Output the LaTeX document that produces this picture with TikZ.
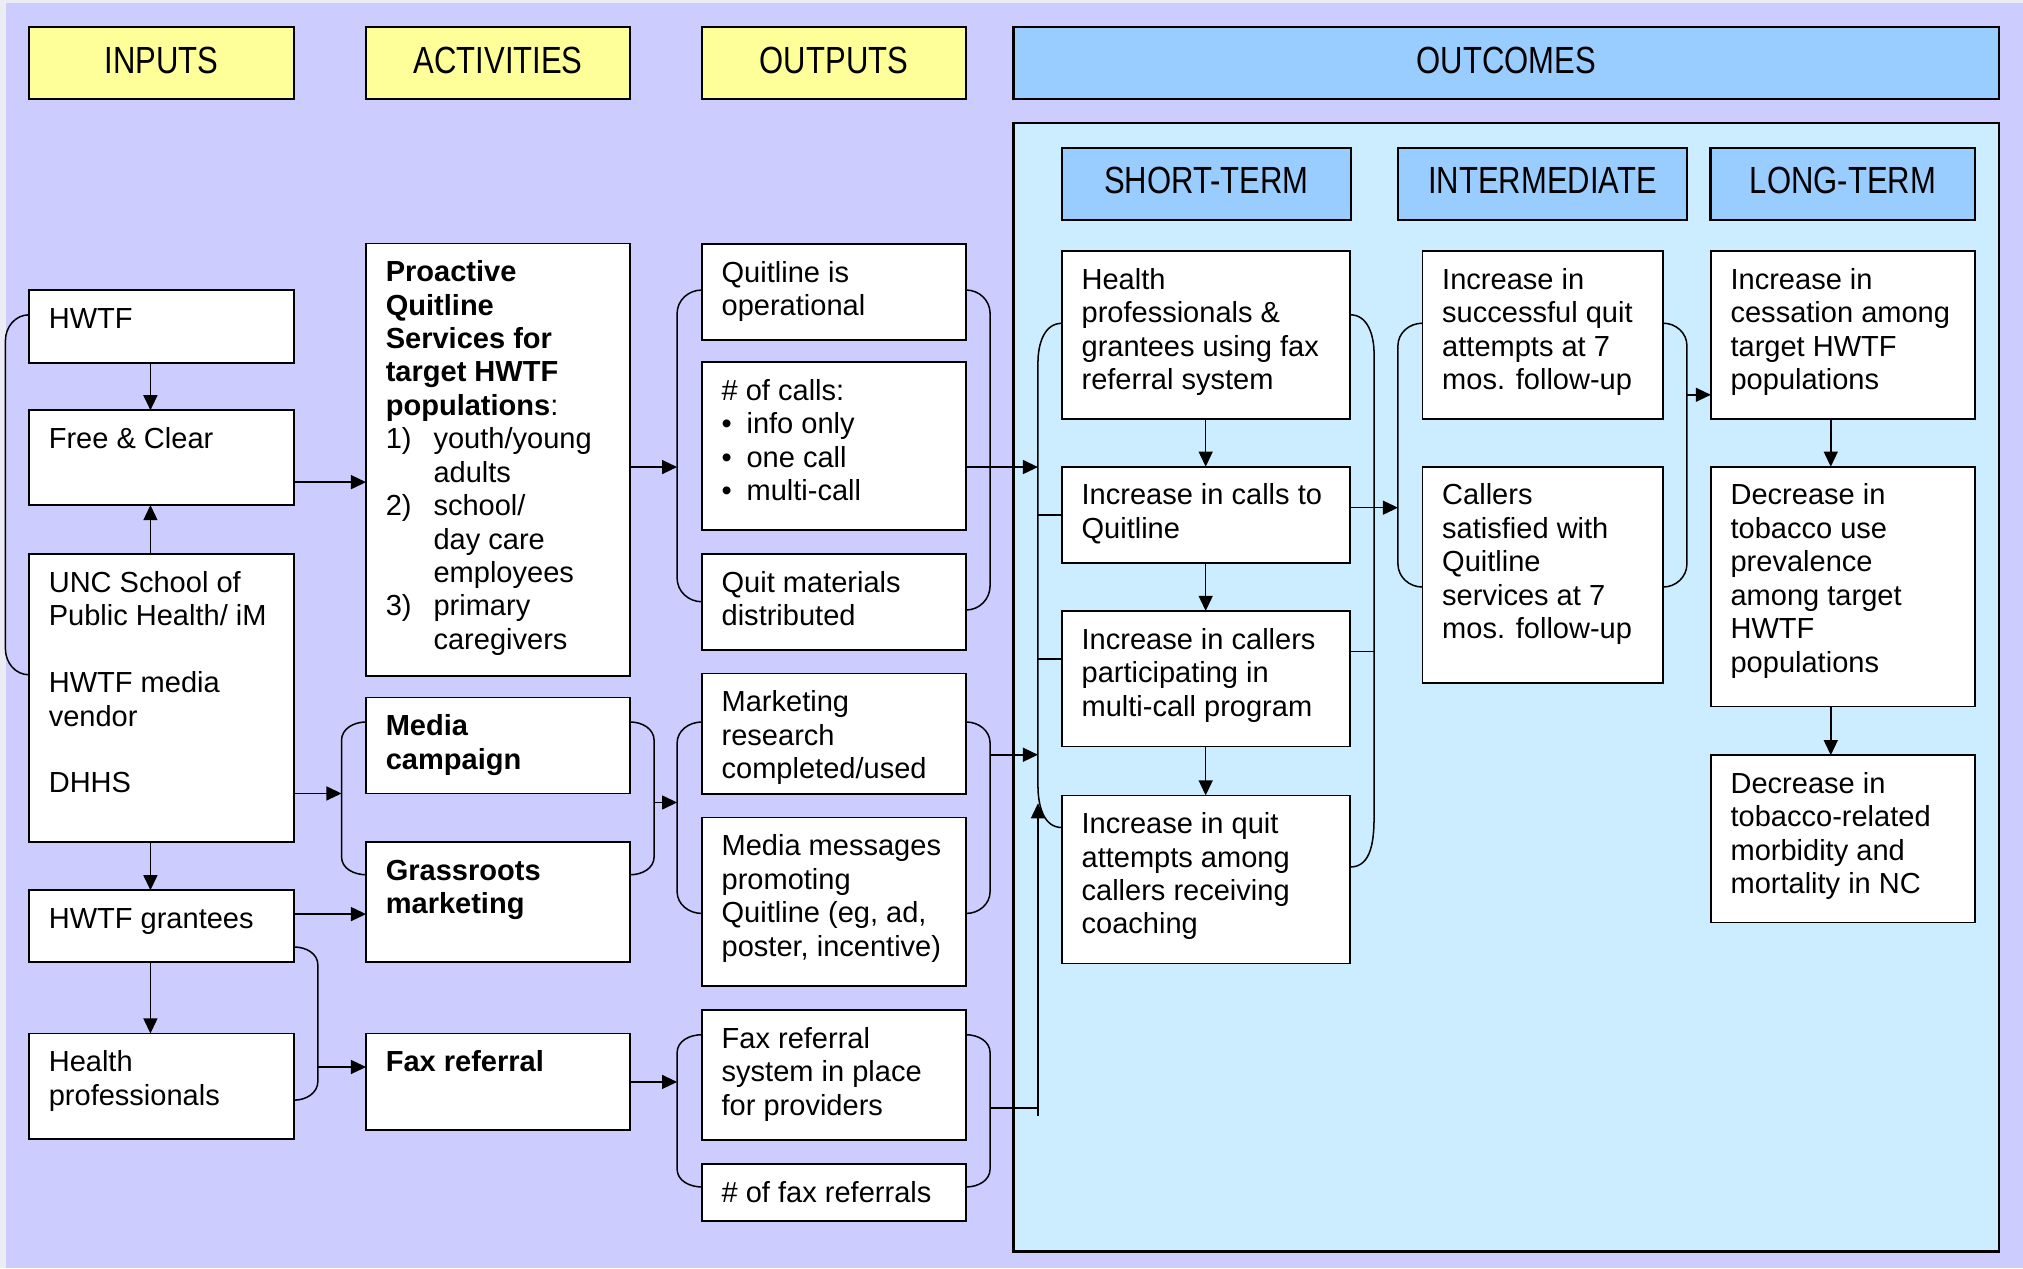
\documentclass[tikz,border=0pt]{standalone}
\usepackage{fontspec}
\setmainfont{Liberation Sans}
\newfontfamily\hdfont[FakeStretch=0.82]{Liberation Sans}
\usetikzlibrary{arrows.meta,calc}
\newcommand\bodyfont{\fontsize{13.5}{15.54}\selectfont}
\newcommand\hdrfont{\hdfont\fontsize{17.6}{20}\selectfont}
\newcommand\bigbul{\makebox[11.6pt][l]{\textbullet}}
\definecolor{lav}{HTML}{CCCCFF}
\definecolor{outerc}{HTML}{ECECF4}
\definecolor{hyel}{HTML}{FFFF99}
\definecolor{hblue}{HTML}{99CCFF}
\definecolor{pblue}{HTML}{CCECFF}
\tikzset{
  boxst/.style={draw, fill=white, line width=0.8pt, inner sep=0pt, outer sep=0pt},
  hdrst/.style={draw, line width=1.1pt, inner sep=0pt, outer sep=0pt},
  txt/.style={anchor=north west, inner sep=0pt, align=left, font=\bodyfont},
  hdtxt/.style={anchor=base, inner sep=0pt, font=\hdrfont},
  conn/.style={draw, line width=0.7pt},
  arr/.style={conn, -{Triangle[length=7pt,width=6.5pt]}}
}
% name, x1, y1, x2, y2, text
\newcommand\bx[6]{%
  \node[boxst, minimum width={(#4-#2)*0.6pt}, minimum height={(#5-#3)*0.6pt}] (#1) at ({(#2+#4)/2},{(#3+#5)/2}) {};
  \node[txt] at ({#2+15},{#3+11.2}) {\strut #6};
}
% name, x1, y1, x2, y2, fill, text, baseline
\newcommand\hx[8]{%
  \node[hdrst, fill=#6, minimum width={(#4-#2)*0.6pt}, minimum height={(#5-#3)*0.6pt}] (#1) at ({(#2+#4)/2},{(#3+#5)/2}) {};
  \node[hdtxt] at ({(#2+#4)/2},#8) {#7};
}
\begin{document}
\begin{tikzpicture}[x=0.6pt,y=-0.6pt]
\useasboundingbox (0,0) rectangle (1568,983);
\fill[outerc] (0,0) rectangle (1568,983);
\fill[lav] (4.6,2.3) rectangle (1568,983);

% headers
\hx{hin}{22.5}{20.7}{228}{76.7}{hyel}{INPUTS}{56.8}
\hx{hact}{283.7}{20.7}{488.5}{76.7}{hyel}{ACTIVITIES}{56.8}
\hx{hout}{544}{20.7}{748.8}{76.7}{hyel}{OUTPUTS}{56.8}
\hx{hoc}{785.5}{20.7}{1549.5}{76.7}{hblue}{OUTCOMES}{56.8}

% outcomes panel
\node[draw, fill=pblue, line width=1pt, inner sep=0pt, outer sep=0pt, minimum width={764*0.6pt}, minimum height={874.4*0.6pt}] (panel) at (1167.5,532.8) {};

\hx{st}{823}{114.5}{1047}{170.5}{hblue}{SHORT-TERM}{150}
\hx{im}{1083.7}{114.5}{1307.6}{170.5}{hblue}{INTERMEDIATE}{150}
\hx{lt}{1325.9}{114.5}{1530.8}{170.5}{hblue}{LONG-TERM}{150}

% inputs
\bx{hwtf}{22.5}{225}{228}{281.6}{HWTF}
\bx{fc}{22.5}{318}{228}{391.5}{Free \& Clear}
\bx{unc}{22.5}{429.5}{228}{652.6}{UNC School of\\Public Health/ iM\\[15.54pt]HWTF media\\vendor\\[15.54pt]DHHS}
\bx{grant}{22.5}{690}{228}{745.6}{HWTF grantees}
\bx{hp}{22.5}{801}{228}{883}{Health\\professionals}

% activities
\bx{pro}{283.7}{188.7}{488.5}{524}{\textbf{Proactive}\\\textbf{Quitline}\\\textbf{Services for}\\\textbf{target HWTF}\\\textbf{populations}:\\\makebox[22.2pt][l]{1)}youth/young\\\hspace*{22.2pt}adults\\\makebox[22.2pt][l]{2)}school/\\\hspace*{22.2pt}day care\\\hspace*{22.2pt}employees\\\makebox[22.2pt][l]{3)}primary\\\hspace*{22.2pt}caregivers}
\bx{media}{283.7}{540.7}{488.5}{615}{\textbf{Media}\\\textbf{campaign}}
\bx{grass}{283.7}{652.6}{488.5}{745.6}{\textbf{Grassroots}\\\textbf{marketing}}
\bx{fax}{283.7}{801}{488.5}{876}{\textbf{Fax referral}}

% outputs
\bx{qop}{544}{189}{748.8}{263.5}{Quitline is\\operational}
\bx{calls}{544}{280.6}{748.8}{410.8}{\# of calls:\\\bigbul info only\\\bigbul one call\\\bigbul multi-call}
\bx{qmat}{544}{429.5}{748.8}{503.8}{Quit materials\\distributed}
\bx{mkt}{544}{522}{748.8}{615.5}{Marketing\\research\\completed/used}
\bx{mm}{544}{633.7}{748.8}{764}{Media messages\\promoting\\Quitline (eg, ad,\\poster, incentive)}
\bx{fsys}{544}{783}{748.8}{883.6}{Fax referral\\system in place\\for providers}
\bx{nfax}{544}{902}{748.8}{946.4}{\# of fax referrals}

% short-term
\bx{s1}{823}{194.5}{1046.6}{324.8}{Health\\professionals \&\\grantees using fax\\referral system}
\bx{s2}{823}{361.7}{1046.6}{436.6}{Increase in calls to\\Quitline}
\bx{s3}{823}{473.5}{1046.6}{578.7}{Increase in callers\\participating in\\multi-call program}
\bx{s4}{823}{616.5}{1046.6}{746.8}{Increase in quit\\attempts among\\callers receiving\\coaching}

% intermediate
\bx{i1}{1102.5}{194.5}{1289}{324.8}{Increase in\\successful quit\\attempts at 7\\mos. follow-up}
\bx{i2}{1102.5}{361.7}{1289}{529.6}{Callers\\satisfied with\\Quitline\\services at 7\\mos. follow-up}

% long-term
\bx{l1}{1326}{194.5}{1530.8}{324.8}{Increase in\\cessation among\\target HWTF\\populations}
\bx{l2}{1326}{361.7}{1530.8}{547.7}{Decrease in\\tobacco use\\prevalence\\among target\\HWTF\\populations}
\bx{l3}{1326}{585.3}{1530.8}{715}{Decrease in\\tobacco-related\\morbidity and\\mortality in NC}

% ---- connectors: inputs
\draw[conn] (hwtf.west |- 0,244) to[out=180,in=90] (4.2,264) -- (4.2,503) to[out=-90,in=180] (unc.west |- 0,523);
\draw[arr] (hwtf.south -| 116.6,0) -- (fc.north -| 116.6,0);
\draw[arr] (unc.north -| 116.6,0) -- (fc.south -| 116.6,0);
\draw[arr] (fc.east |- 0,373.7) -- (pro.west |- 0,373.7);
\draw[arr] (unc.south -| 116.6,0) -- (grant.north -| 116.6,0);
\draw[arr] (grant.south -| 116.6,0) -- (hp.north -| 116.6,0);
\coordinate (mbl) at (264.7,615);
\draw[arr] (unc.east |- mbl) -- (mbl);
\draw[arr] (grant.east |- 0,708.5) -- (grass.west |- 0,708.5);
\draw[conn] (grant.east |- 0,734) to[out=0,in=90] (246.4,748) -- (246.4,838) to[out=-90,in=0] (hp.east |- 0,852.7);
\coordinate (gpb) at (246.4,827);
\draw[arr] (gpb) -- (fax.west |- gpb);

% activities brackets
\draw[conn] (media.west |- 0,559.6) to[out=180,in=90] (264.7,574) -- (264.7,664) to[out=-90,in=180] (grass.west |- 0,678);
\draw[conn] (media.east |- 0,559.6) to[out=0,in=90] (507,574) -- (507,664) to[out=-90,in=0] (grass.east |- 0,678);
\coordinate (mgr) at (507,622);
\draw[arr] (mgr) -- (524.8,622);
\draw[arr] (pro.east |- 0,362) -- (524.8,362);
\draw[arr] (fax.east |- 0,838.6) -- (524.8,838.6);

% outputs brackets
\draw[conn] (qop.west |- 0,224.8) to[out=180,in=90] (524.8,243) -- (524.8,448) to[out=-90,in=180] (qmat.west |- 0,466.4);
\draw[conn] (qop.east |- 0,224.8) to[out=0,in=90] (767.4,243) -- (767.4,454) to[out=-90,in=0] (qmat.east |- 0,472.8);
\draw[arr] (calls.east |- 0,362) -- (804.5,362);
\draw[conn] (mkt.west |- 0,559.6) to[out=180,in=90] (524.8,576) -- (524.8,691) to[out=-90,in=180] (mm.west |- 0,708);
\draw[conn] (mkt.east |- 0,559.6) to[out=0,in=90] (767.4,576) -- (767.4,691) to[out=-90,in=0] (mm.east |- 0,708);
\draw[arr] (767.4,585) -- (804.5,585);
\draw[conn] (fsys.west |- 0,802) to[out=180,in=90] (524.8,816) -- (524.8,906) to[out=-90,in=180] (nfax.west |- 0,920);
\draw[conn] (fsys.east |- 0,802) to[out=0,in=90] (767.4,816) -- (767.4,906) to[out=-90,in=0] (nfax.east |- 0,920);
\draw[arr] (767.4,858.8) -| (804.5,622.6);
\draw[conn] (804.5,858.8) -- (804.5,864.6);

% short-term brackets
\draw[conn] (s1.west |- 0,250.6) to[out=180,in=90] (804.5,281) -- (804.5,609) to[out=-90,in=180] (s4.west |- 0,641.4);
\draw[conn] (804.5,399) -- (s2.west |- 0,399);
\draw[conn] (804.5,510.8) -- (s3.west |- 0,510.8);
\draw[conn] (s1.east |- 0,244) to[out=0,in=90] (1065,274) -- (1065,633) to[out=-90,in=0] (s4.east |- 0,672);
\draw[conn] (s3.east |- 0,505) -- (1065,505);
\draw[arr] (s1.south -| 934.5,0) -- (s2.north -| 934.5,0);
\draw[arr] (s2.south -| 934.5,0) -- (s3.north -| 934.5,0);
\draw[arr] (s3.south -| 934.5,0) -- (s4.north -| 934.5,0);
\draw[arr] (s2.east |- 0,393.5) -- (1083.5,393.5);

% intermediate brackets
\draw[conn] (i1.west |- 0,250.5) to[out=180,in=90] (1083.5,268) -- (1083.5,437) to[out=-90,in=180] (i2.west |- 0,455);
\draw[conn] (i1.east |- 0,250.5) to[out=0,in=90] (1307.5,268) -- (1307.5,437) to[out=-90,in=0] (i2.east |- 0,455);
\draw[arr] (1307.5,306) -- (l1.west |- 0,306);

% long-term arrows
\draw[arr] (l1.south -| 1419,0) -- (l2.north -| 1419,0);
\draw[arr] (l2.south -| 1419,0) -- (l3.north -| 1419,0);
\end{tikzpicture}
\end{document}
